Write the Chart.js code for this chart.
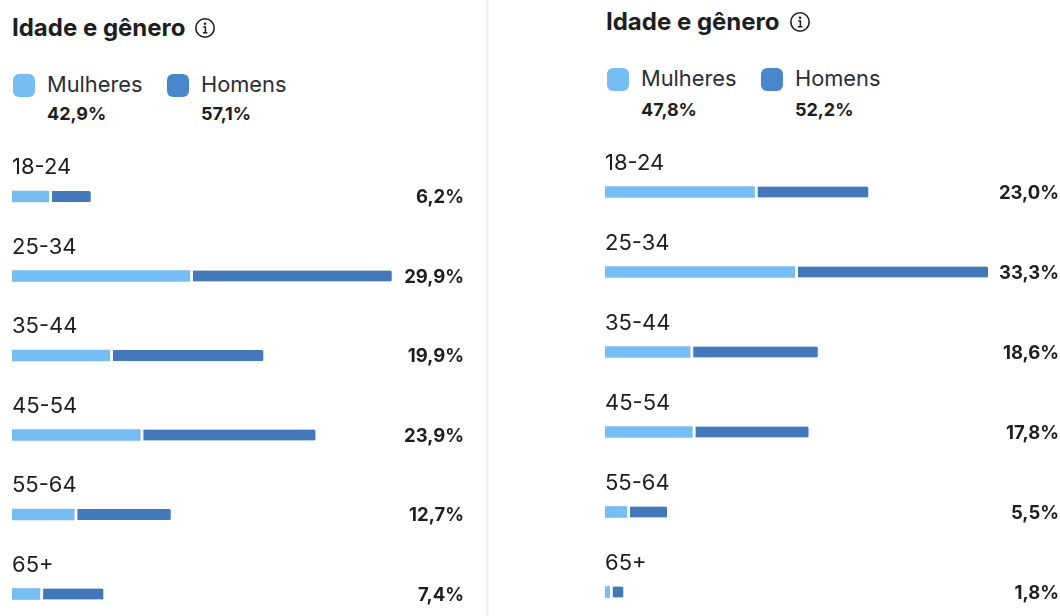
<!DOCTYPE html>
<html lang="pt">

<head>
    <meta charset="UTF-8">
    <title>Idade e gênero</title>
    <script src="https://cdn.jsdelivr.net/npm/chart.js"></script>
    <style>
        html, body { margin: 0; padding: 0; background: #fff; overflow: hidden; }
        body { width: 1060px; height: 616px; position: relative; font-family: Inter, "Noto Sans", sans-serif; color: #1c1e21; }
        .abs { position: absolute; white-space: nowrap; line-height: 1; }
        .title { font-size: 24px; font-weight: 700; }
        .leg { font-size: 21.8px; font-weight: 400; color: #2b2e33; }
        .pct { font-size: 18px; font-weight: 700; }
        .sw { position: absolute; width: 22px; height: 23px; border-radius: 6px; }
        .divider { position: absolute; left: 486px; top: 0; width: 3px; height: 616px; background: #f0f2f5; }
        canvas { position: absolute; }
    </style>
</head>

<body>
    <div class="divider"></div>
    <canvas id="leftChart" width="453" height="476" style="left:12px;top:140px"></canvas>
    <canvas id="rightChart" width="455" height="480" style="left:605px;top:136px"></canvas>

    <script>
        const ages = ['18-24', '25-34', '35-44', '45-54', '55-64', '65+'];
        const seriesNames = ['Mulheres', 'Homens'];

        // left panel
        const leftWomen = [2.9, 14.0, 7.7, 10.1, 4.9, 2.2];
        const leftMen = [3.3, 15.9, 12.1, 13.8, 7.6, 5.0];
        const leftTotals = ['6,2%', '29,9%', '19,9%', '23,9%', '12,7%', '7,4%'];
        const leftShares = ['42,9%', '57,1%'];

        // right panel
        const rightWomen = [13.0, 16.5, 7.4, 7.6, 1.9, 0.4];
        const rightMen = [9.9, 16.8, 11.1, 10.1, 3.5, 1.2];
        const rightTotals = ['23,0%', '33,3%', '18,6%', '17,8%', '5,5%', '1,8%'];
        const rightShares = ['47,8%', '52,2%'];

        const womenColor = '#76bdf3';
        const menColor = '#4379bb';
        const titleText = 'Idade e gênero';

        function addText(cls, text, x, centerY) {
            const el = document.createElement('div');
            el.className = 'abs ' + cls;
            el.textContent = text;
            el.style.left = x + 'px';
            el.style.top = centerY + 'px';
            el.style.transform = 'translateY(-50%)';
            document.body.appendChild(el);
            return el;
        }

        function addSwatch(x, y, color) {
            const el = document.createElement('div');
            el.className = 'sw';
            el.style.left = x + 'px';
            el.style.top = y + 'px';
            el.style.background = color;
            document.body.appendChild(el);
        }

        function addInfoIcon(cx, cy) {
            const ns = 'http://www.w3.org/2000/svg';
            const svg = document.createElementNS(ns, 'svg');
            svg.setAttribute('width', 22);
            svg.setAttribute('height', 22);
            svg.setAttribute('viewBox', '0 0 22 22');
            svg.style.position = 'absolute';
            svg.style.left = (cx - 11) + 'px';
            svg.style.top = (cy - 11) + 'px';
            svg.innerHTML = '<circle cx="11" cy="11" r="9.2" fill="none" stroke="#1c1e21" stroke-width="1.6"/>' +
                '<circle cx="11" cy="6.8" r="1.3" fill="#1c1e21"/>' +
                '<path d="M9.2 10h2.2v5.6M9 15.8h4.4" fill="none" stroke="#1c1e21" stroke-width="1.5"/>';
            document.body.appendChild(svg);
        }

        function header(x, titleY, iconX, legendY, shareY, shares, menSwatchX) {
            addText('title', titleText, x, titleY);
            addInfoIcon(iconX, titleY);
            addSwatch(x + 1, legendY - 11, womenColor);
            addSwatch(menSwatchX, legendY - 11, '#4a86cb');
            addText('leg', seriesNames[0], x + 35, legendY);
            addText('leg', seriesNames[1], menSwatchX + 34, legendY);
            addText('pct', shares[0], x + 35, shareY);
            addText('pct', shares[1], menSwatchX + 34, shareY);
        }

        header(12, 28, 205, 85, 114, leftShares, 167);
        header(606, 22, 800, 79, 110, rightShares, 761);

        // writes the row total at the right edge, in line with the bar
        const totalsPlugin = {
            id: 'totals',
            afterDatasetsDraw(chart, args, opts) {
                const ctx = chart.ctx;
                const yScale = chart.scales.y;
                ctx.save();
                ctx.font = '700 18.5px Inter';
                ctx.fillStyle = '#1c1e21';
                ctx.textAlign = 'right';
                ctx.textBaseline = 'middle';
                opts.labels.forEach(function (t, i) {
                    ctx.fillText(t, chart.chartArea.right - 1, yScale.getPixelForValue(i) + 1);
                });
                ctx.restore();
            }
        };

        function makeChart(id, women, men, totals, xMax, padTop, padBottom) {
            return new Chart(document.getElementById(id), {
                type: 'bar',
                data: {
                    labels: ages,
                    datasets: [
                        {
                            label: seriesNames[0],
                            data: women,
                            backgroundColor: womenColor,
                            barThickness: 11,
                            borderRadius: 1.5,
                            borderSkipped: false,
                            clip: false
                        },
                        {
                            label: seriesNames[1],
                            data: men,
                            backgroundColor: menColor,
                            barThickness: 11,
                            borderColor: '#ffffff',
                            borderWidth: { left: 3.5, top: 0, right: 0, bottom: 0 },
                            borderRadius: 1.5,
                            borderSkipped: false,
                            clip: false
                        }
                    ]
                },
                options: {
                    indexAxis: 'y',
                    responsive: false,
                    animation: false,
                    layout: { padding: { top: padTop, bottom: padBottom, left: 0, right: 0 } },
                    plugins: {
                        legend: { display: false },
                        tooltip: { enabled: false },
                        totals: { labels: totals }
                    },
                    scales: {
                        x: { display: false, stacked: true, min: 0, max: xMax },
                        y: {
                            stacked: true,
                            offset: false,
                            border: { display: false },
                            grid: { display: false, drawTicks: false },
                            ticks: {
                                mirror: true,
                                padding: 0,
                                autoSkip: false,
                                labelOffset: -29,
                                color: '#1c1e21',
                                font: { family: 'Inter', size: 22, weight: '400' }
                            }
                        }
                    }
                },
                plugins: [totalsPlugin]
            });
        }

        // 12.7 and 11.5 pixels per percent point in the two panels
        makeChart('leftChart', leftWomen, leftMen, leftTotals, 35.67, 56.5, 22);
        makeChart('rightChart', rightWomen, rightMen, rightTotals, 39.56, 56, 24);
    </script>
</body>

</html>
